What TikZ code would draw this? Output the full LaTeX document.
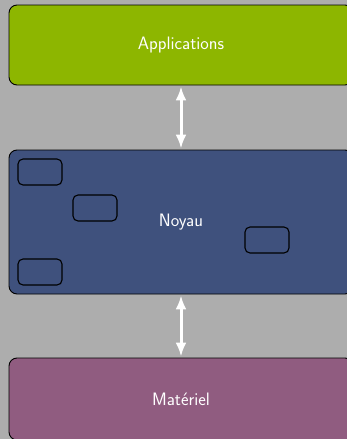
\documentclass[tikz,border=0pt]{standalone}
\usepackage{fontspec}
\usepackage{tikz}
\usetikzlibrary{arrows.meta}

\definecolor{fondgris}{RGB}{173,173,173}
\definecolor{vertapp}{RGB}{141,182,0}
\definecolor{bleunoyau}{RGB}{63,81,125}
\definecolor{violetmat}{RGB}{144,92,128}

\tikzset{
  couche/.style={draw=black,line width=0.9pt,rounded corners=8pt,minimum width=344pt,text=white,
    font=\sffamily\fontsize{18}{20}\selectfont,inner sep=0pt},
  module/.style={draw=black,line width=1.1pt,rounded corners=5pt,minimum width=44pt,minimum height=26pt,
    fill=bleunoyau,inner sep=0pt},
  lien/.style={white,line width=3pt,{Latex[length=14pt,width=11pt]}-{Latex[length=14pt,width=11pt]}}
}

\begin{document}
\begin{tikzpicture}[x=1pt,y=-1pt]
\fill[fondgris] (0,0) rectangle (347,439);
\useasboundingbox (0,0) rectangle (347,439);
\clip (0,0) rectangle (347,439);
\node[couche,fill=vertapp,minimum height=80pt] (app) at (181,45) {Applications};
\node[couche,fill=bleunoyau,minimum height=144pt] (noyau) at (181,222) {Noyau};
\node[couche,fill=violetmat,minimum height=82pt] (mat) at (181,399) {Matériel};
%\node[module] (m0) at (120,240) {};
\node[module] (m1) at (40,172) {};
\node[module] (m2) at (95,208) {};
\node[module] (m3) at (267,240) {};
\node[module] (m4) at (40,272) {};
\draw[lien] ([yshift=-1pt]app.south) -- ([yshift=1pt]noyau.north);
\draw[lien] ([yshift=-1pt]noyau.south) -- ([yshift=1pt]mat.north);
\end{tikzpicture}
\end{document}
